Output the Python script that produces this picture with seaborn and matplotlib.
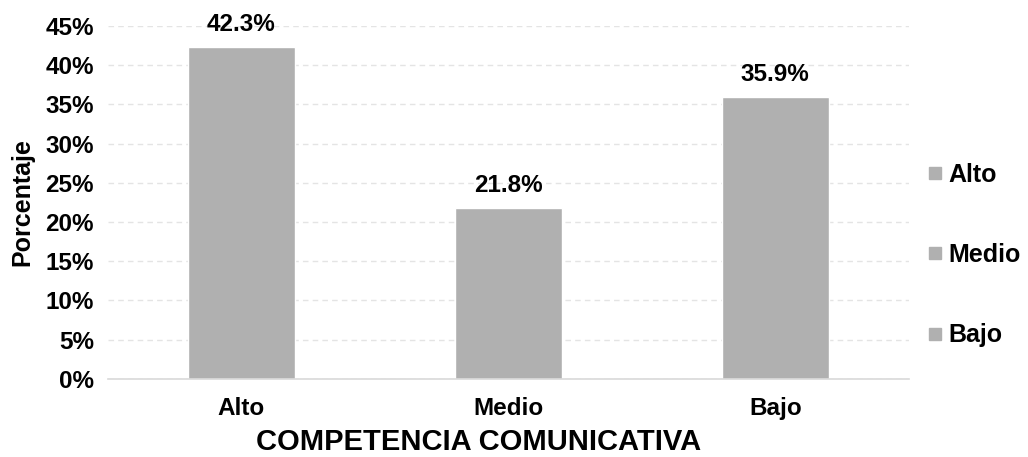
import matplotlib
matplotlib.use("Agg")
import matplotlib.pyplot as plt
import pandas as pd
import seaborn as sns
from matplotlib.ticker import PercentFormatter

CATEGORIES = ["Alto", "Medio", "Bajo"]
VALUES = [42.3, 21.8, 35.9]
LABELS = ["42.3%", "21.8%", "35.9%"]
BAR_COLOR = "#B0B0B0"

sns.set_theme(style="white")
plt.rcParams["font.family"] = ["Liberation Sans", "DejaVu Sans"]
plt.rcParams["font.weight"] = "bold"
plt.rcParams["text.color"] = "black"
plt.rcParams["xtick.color"] = "black"
plt.rcParams["ytick.color"] = "black"
plt.rcParams["axes.labelcolor"] = "black"

df = pd.DataFrame({"nivel": CATEGORIES, "pct": VALUES})

fig = plt.figure(figsize=(10.28, 4.57), dpi=100)
ax = fig.add_axes([0.105, 0.171, 0.779, 0.772])

sns.barplot(
    data=df, x="nivel", y="pct", hue="nivel",
    palette=[BAR_COLOR] * 3, width=0.4, ax=ax, legend=True,
    saturation=1,
)

ax.set_ylim(0, 45)
ax.set_yticks(range(0, 46, 5))
ax.yaxis.set_major_formatter(PercentFormatter(decimals=0))
ax.grid(axis="y", color="#E4E4E4", linestyle=(0, (4, 3)), linewidth=1)
ax.set_axisbelow(True)
for side in ["top", "right", "left"]:
    ax.spines[side].set_visible(False)
ax.spines["bottom"].set_color("#D9D9D9")
ax.spines["bottom"].set_linewidth(1.2)
ax.tick_params(axis="y", length=0, labelsize=17.5, pad=10)
ax.tick_params(axis="x", length=0, labelsize=17.5, pad=13)
for lab in ax.get_xticklabels() + ax.get_yticklabels():
    lab.set_fontweight("bold")

for cont, txt in zip(ax.containers, LABELS):
    ax.bar_label(cont, labels=[txt], padding=8, fontsize=17.5, fontweight="bold")

ax.set_xlabel("COMPETENCIA COMUNICATIVA", fontsize=21, fontweight="bold")
ax.xaxis.set_label_coords(0.463, -0.14)
ax.set_ylabel("Porcentaje", fontsize=18, fontweight="bold", labelpad=8)

handles = [plt.Line2D([], [], marker="s", linestyle="", color=BAR_COLOR, markersize=9)
           for _ in CATEGORIES]
ax.legend(handles, CATEGORIES, loc="center left", bbox_to_anchor=(0.995, 0.351),
          frameon=False, prop={"size": 18, "weight": "bold"},
          handlelength=0.6, handletextpad=0.25, labelspacing=2.25)

fig.savefig("out.png", dpi=100)
